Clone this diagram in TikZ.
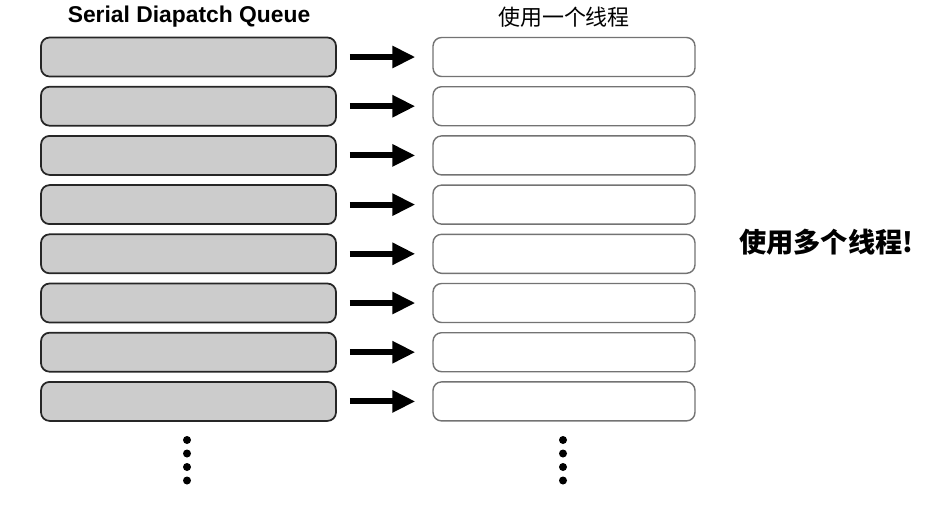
\documentclass[tikz,border=0pt]{standalone}
\usepackage{fontspec}
\setmainfont{Liberation Sans}
\newfontfamily\cjk{Noto Sans CJK SC}
\usetikzlibrary{arrows.meta}
\tikzset{
	queuebox/.style={draw=black!85, line width=1pt, fill=black!20, rounded corners=0.17cm,
		minimum width=5.9cm, minimum height=0.78cm},
	threadbox/.style={draw=black!55, line width=0.8pt, fill=white, rounded corners=0.17cm,
		minimum width=5.24cm, minimum height=0.78cm},
	flow/.style={line width=3.4pt, -{Triangle[length=0.46cm, width=0.42cm]},
		shorten <=0.26cm, shorten >=0.34cm}
}
\begin{document}
\begin{tikzpicture}[x=0.02cm, y=-0.02cm]
	\useasboundingbox (0,0) rectangle (937,505);
	
	\node [font=\bfseries\fontsize{13}{15}\selectfont] (qtitle) at (189,17) {Serial Diapatch Queue};
	\node [font=\cjk\fontsize{12.5}{14}\selectfont] (ttitle) at (564,17) {使用一个线程};
	
	\foreach \i in {1,...,8} {
		\node [queuebox] (q\i) at (188.5, 57 + 49.2*\i - 49.2) {};
		\node [threadbox] (t\i) at (564, 57 + 49.2*\i - 49.2) {};
		\draw [flow] (q\i.east) -- (t\i.west);
	}
	
	% more rows
	\foreach \j in {0,...,3} {
		\fill (187, 440 + 13.5*\j) circle (4);
		\fill (563, 440 + 13.5*\j) circle (4);
	}
	
	\node [font=\cjk\bfseries\fontsize{15.5}{17}\selectfont, anchor=west] (many) at (733,242) {使用多个线程!};
\end{tikzpicture}
\end{document}
